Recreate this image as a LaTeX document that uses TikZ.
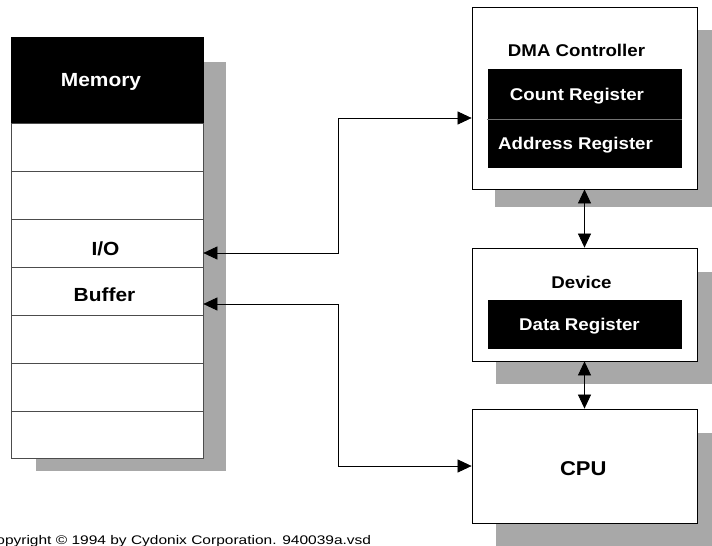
\documentclass[tikz,border=0pt]{standalone}
\usepackage{fontspec}
\setmainfont{Liberation Sans}[FakeStretch=1.1]
\newfontfamily\cpfont{Liberation Sans}[FakeStretch=1.24]
\usetikzlibrary{arrows.meta}
\definecolor{shadowc}{RGB}{168,168,168}
\tikzset{
  shade/.style={fill=shadowc},
  cell/.style={draw=black!70, line width=0.7pt, fill=white, minimum width=192pt, inner sep=0pt},
  hdr/.style={draw=black, fill=black, minimum width=192pt, inner sep=0pt},
  box/.style={draw=black, line width=0.8pt, fill=white, minimum width=225pt, inner sep=0pt},
  reg/.style={fill=black, minimum width=194pt, inner sep=0pt},
  big/.style={anchor=base, inner sep=0pt, font=\bfseries\fontsize{19}{22}\selectfont},
  mid/.style={anchor=base, inner sep=0pt, font=\bfseries\fontsize{17}{20}\selectfont},
  arr/.style={line width=0.7pt, {Triangle[length=14pt,width=13pt]}-{Triangle[length=14pt,width=13pt]}}
}
\begin{document}
\begin{tikzpicture}[x=1pt,y=-1pt]
\useasboundingbox (0,0) rectangle (712,546);
% shadows
\fill[shade] (36,62) rectangle (226,471);
\fill[shade] (495,30) rectangle (712,207);
\fill[shade] (496,272) rectangle (712,384);
\fill[shade] (496,433) rectangle (712,546);
% memory
\node[hdr, minimum height=86pt] (mem) at (107,80) {};
\node[cell, minimum height=48pt] (r1) at (107,147) {};
\node[cell, minimum height=48pt] (r2) at (107,195) {};
\node[cell, minimum height=48pt] (io) at (107,243) {};
\node[cell, minimum height=48pt] (buf) at (107,291) {};
\node[cell, minimum height=48pt] (r5) at (107,339) {};
\node[cell, minimum height=48pt] (r6) at (107,387) {};
\node[cell, minimum height=47pt] (r7) at (107,434.5) {};
\node[big, text=white] (memt) at (101,86) {Memory};
\node[big] (iot) at (105.5,255) {I/O};
\node[big] (buft) at (104.5,301.5) {Buffer};
% DMA controller
\node[box, minimum height=182pt] (dma) at (584.5,98) {};
\node[reg, minimum height=50pt] (cnt) at (584.5,94) {};
\node[reg, minimum height=49pt] (addr) at (584.5,143.5) {};
\draw[black!55, line width=0.6pt] (cnt.south west) -- (cnt.south east);
\node[mid] (dmat) at (576.5,56) {DMA Controller};
\node[mid, text=white] (cntt) at (577,100) {Count Register};
\node[mid, text=white] (addrt) at (575.5,149) {Address Register};
% Device
\node[box, minimum height=113pt] (dev) at (584.5,304.5) {};
\node[reg, minimum height=49pt] (dreg) at (585,324.5) {};
\node[mid] (devt) at (581.5,288) {Device};
\node[mid, text=white] (dregt) at (579.5,330) {Data Register};
% CPU
\node[box, minimum height=114pt] (cpu) at (584.5,466) {};
\node[big, font=\bfseries\fontsize{20}{24}\selectfont] (cput) at (583.3,475) {CPU};
% connectors
\draw[arr] (dma.south) -- (dev.north);
\draw[arr] (dev.south) -- (cpu.north);
\draw[arr] ([yshift=-10pt]io.east) -- ++(135,0) |- ([yshift=-20pt]dma.west);
\draw[arr] ([yshift=-13pt]buf.east) -- ++(135,0) |- (cpu.west);
% copyright
\node[anchor=base west, inner sep=0pt, font=\cpfont\fontsize{12.5}{14}\selectfont] (copy) at (-15,544) {Copyright © 1994 by Cydonix Corporation. 940039a.vsd};
\end{tikzpicture}
\end{document}
